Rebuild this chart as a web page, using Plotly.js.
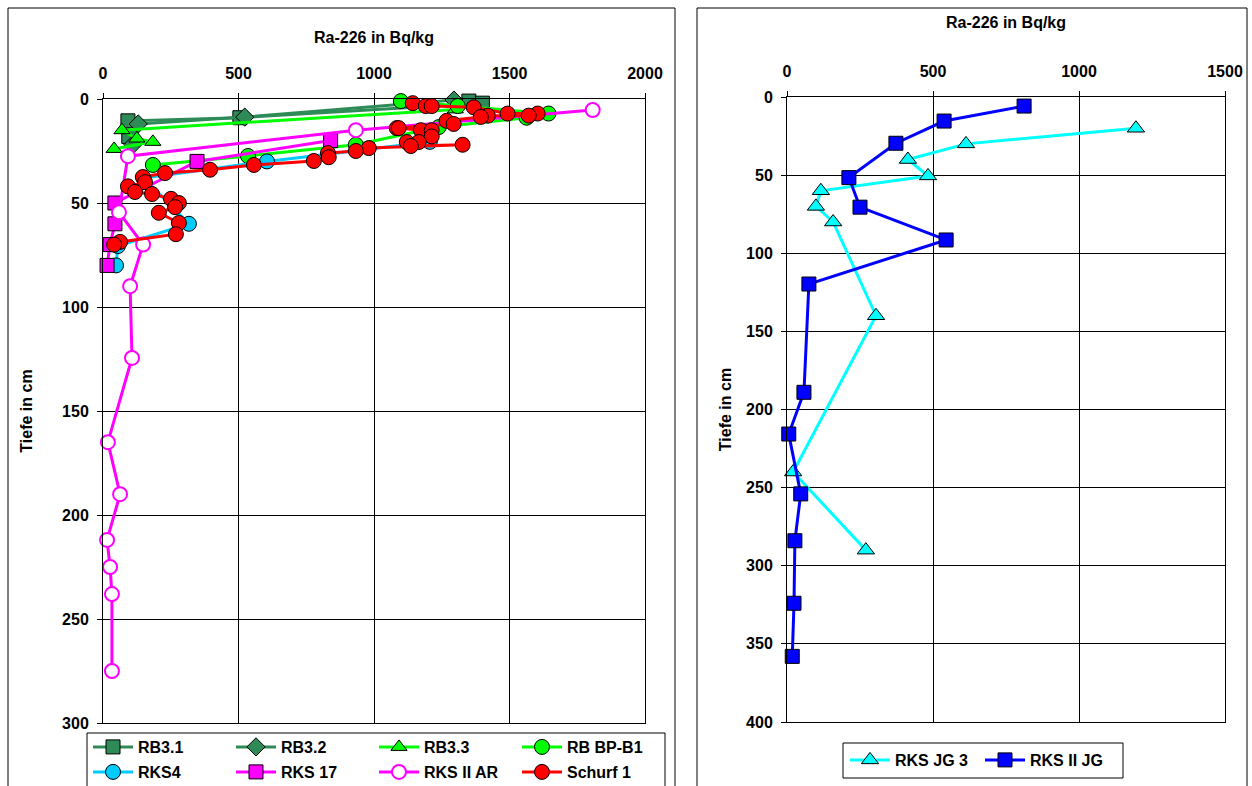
<!DOCTYPE html>
<html>
<head>
<meta charset="utf-8">
<script src="https://cdn.plot.ly/plotly-3.0.1.min.js"></script>
<style>
html,body{margin:0;padding:0;background:#fff;}
#chart{width:1252px;height:786px;}
</style>
</head>
<body>
<div id="chart"></div>
<script>
// ---- Data (Ra-226 in Bq/kg vs. depth in cm) ----
const rb31_x = [1350, 1400, 505, 92, 95];
const rb31_d = [1, 2, 9, 10.5, 18];
const rb32_x = [1295, 523, 130, 110];
const rb32_d = [0.5, 8.7, 12, 22];
const rb33_x = [1300, 70, 125, 184, 41];
const rb33_d = [5, 15, 19, 20.6, 24];
const rbbp_x = [1099, 1309, 1644, 1563, 1239, 933, 535, 184];
const rbbp_d = [1, 3.4, 7, 9, 13.5, 22, 27.4, 31.7];
const rks4_x = [1206, 605, 150, 317, 55, 48];
const rks4_d = [20.6, 30, 38, 60, 70.7, 80];
const rks17_x = [840, 347, 44, 44, 26, 15];
const rks17_d = [20, 30, 50, 60, 70, 80];
const rks2ar_x = [1807, 933, 92, 59, 148, 100, 107, 18, 63, 15, 26, 33, 33];
const rks2ar_d = [5.3, 15, 27.5, 54.5, 70, 90, 124.5, 165, 190, 212, 225, 238, 275];
const schurf_x = [1143, 1191, 1213, 1368, 1493, 1604, 1571, 1420, 1394, 1268, 1294, 1084, 1091, 1173, 1213, 1213, 1165, 1121, 1136, 1327,
                  981, 933, 830, 833, 778, 557, 395, 229, 147, 155, 92, 118, 181, 251, 280, 266, 206, 280, 269, 63, 41];
const schurf_d = [2, 3.4, 3.4, 4, 7, 7, 8, 8, 8.6, 10.5, 12, 14, 14, 15, 15, 18, 20.7, 20.7, 22.6, 22,
                  23.6, 25, 26, 28, 29.8, 31.7, 34, 35.6, 37.5, 40, 42, 44.7, 45.7, 48, 50, 52, 54.7, 59.6, 65, 68.7, 70];

const jg3_x = [1195, 613, 414, 483, 116, 99, 158, 305, 21, 270];
const jg3_d = [20, 30, 40, 50.5, 60, 70, 80, 140, 240, 290];
const rks2jg_x = [812, 538, 373, 212, 250, 545, 75, 58, 6, 47, 27, 24, 18];
const rks2jg_d = [5.8, 15.4, 29.6, 51.6, 70.5, 91.5, 119.7, 189, 215.7, 254, 284, 324, 358];

const leftTicksX = [0, 500, 1000, 1500, 2000];
const leftTicksY = [0, 50, 100, 150, 200, 250, 300];
const rightTicksX = [0, 500, 1000, 1500];
const rightTicksY = [0, 50, 100, 150, 200, 250, 300, 350, 400];

// ---- Styles ----
const W = 1252, H = 786;
const FONT = 'Liberation Sans, Arial, sans-serif';
const FS = 16;

function tr(name, x, y, color, symbol, mfill, size, xa, ya, leg) {
  const hollow = mfill === '#ffffff';
  return {
    type: 'scatter', mode: 'lines+markers', name: name, x: x, y: y,
    xaxis: xa, yaxis: ya, legend: leg,
    line: {color: color, width: 3},
    marker: {symbol: symbol, size: size, color: mfill,
             line: {color: hollow ? color : '#000', width: hollow ? 2 : 1}},
    cliponaxis: false
  };
}

const traces = [
  tr('RB3.1', rb31_x, rb31_d, '#2E8B57', 'square', '#2E8B57', 14, 'x', 'y', 'legend'),
  tr('RB3.2', rb32_x, rb32_d, '#2E8B57', 'diamond', '#2E8B57', 14, 'x', 'y', 'legend'),
  tr('RB3.3', rb33_x, rb33_d, '#00FF00', 'triangle-up', '#00FF00', 14, 'x', 'y', 'legend'),
  tr('RB BP-B1', rbbp_x, rbbp_d, '#00FF00', 'circle', '#00FF00', 15, 'x', 'y', 'legend'),
  tr('RKS4', rks4_x, rks4_d, '#00CCFF', 'circle', '#00CCFF', 15, 'x', 'y', 'legend3'),
  tr('RKS 17', rks17_x, rks17_d, '#FF00FF', 'square', '#FF00FF', 14, 'x', 'y', 'legend3'),
  tr('RKS II AR', rks2ar_x, rks2ar_d, '#FF00FF', 'circle', '#ffffff', 14, 'x', 'y', 'legend3'),
  tr('Schurf 1', schurf_x, schurf_d, '#FF0000', 'circle', '#FF0000', 15, 'x', 'y', 'legend3'),
  tr('RKS JG 3', jg3_x, jg3_d, '#00FFFF', 'triangle-up', '#00FFFF', 15, 'x2', 'y2', 'legend2'),
  tr('RKS II JG', rks2jg_x, rks2jg_d, '#0000FF', 'square', '#0000FF', 14, 'x2', 'y2', 'legend2')
];

const bold = {family: FONT, size: FS, color: '#000', weight: 'bold'};

function xAxis(domain, range, ticks, anchor, standoff) {
  return {
    domain: domain, range: range, side: 'top', anchor: anchor,
    tickvals: ticks, ticks: 'outside', ticklen: 5, tickcolor: '#000',
    ticklabelstandoff: 8,
    showline: true, linecolor: '#000', linewidth: 1, mirror: true,
    showgrid: true, gridcolor: '#000', gridwidth: 1, zeroline: false,
    tickfont: bold,
    title: {text: 'Ra-226 in Bq/kg', standoff: standoff, font: bold},
    fixedrange: true
  };
}
function yAxis(domain, range, ticks, anchor, standoff) {
  return {
    domain: domain, range: range, anchor: anchor,
    tickvals: ticks, ticks: 'outside', ticklen: 5, tickcolor: '#000',
    ticklabelstandoff: 5,
    showline: true, linecolor: '#000', linewidth: 1, mirror: true,
    showgrid: true, gridcolor: '#000', gridwidth: 1, zeroline: false,
    tickfont: bold,
    title: {text: 'Tiefe in cm', standoff: standoff, font: bold},
    fixedrange: true
  };
}

function legendRow(xpx, ypx, ew) {
  return {
    orientation: 'h', x: xpx/W, y: 1 - ypx/H, xanchor: 'left', yanchor: 'top',
    entrywidth: ew, entrywidthmode: 'pixels',
    borderwidth: 0, bgcolor: 'rgba(0,0,0,0)',
    font: bold, itemwidth: 40
  };
}

const layout = {
  width: W, height: H,
  margin: {l: 0, r: 0, t: 0, b: 0, autoexpand: false},
  paper_bgcolor: '#fff', plot_bgcolor: '#fff',
  font: {family: FONT, color: '#000'},
  showlegend: true,
  xaxis: xAxis([103/W, 645/W], [0, 2000], leftTicksX, 'y', 16),
  yaxis: yAxis([1 - 723/H, 1 - 99/H], [300, 0], leftTicksY, 'x', 25),
  xaxis2: xAxis([787/W, 1225/W], [0, 1500], rightTicksX, 'y2', 29),
  yaxis2: yAxis([1 - 722/H, 1 - 97/H], [400, 0], rightTicksY, 'x2', 10),
  legend: legendRow(88, 730, 88),
  legend3: legendRow(88, 755, 88),
  legend2: legendRow(845, 743, 80),
  shapes: [
    {type: 'rect', xref: 'paper', yref: 'paper', x0: 8/W, x1: 675/W, y0: -0.01, y1: 1 - 8/H,
     line: {color: '#000', width: 1}, layer: 'below'},
    {type: 'rect', xref: 'paper', yref: 'paper', x0: 697/W, x1: 1247/W, y0: -0.01, y1: 1 - 8/H,
     line: {color: '#000', width: 1}, layer: 'below'},
    {type: 'rect', xref: 'paper', yref: 'paper', x0: 87/W, x1: 665/W, y0: -0.01, y1: 1 - 733/H,
     line: {color: '#000', width: 1}, fillcolor: '#fff', layer: 'above'},
    {type: 'rect', xref: 'paper', yref: 'paper', x0: 843/W, x1: 1123/W, y0: 1 - 778/H, y1: 1 - 743/H,
     line: {color: '#000', width: 1}, fillcolor: '#fff', layer: 'above'}
  ]
};

Plotly.newPlot('chart', traces, layout, {displayModeBar: false, staticPlot: true});
</script>
</body>
</html>
